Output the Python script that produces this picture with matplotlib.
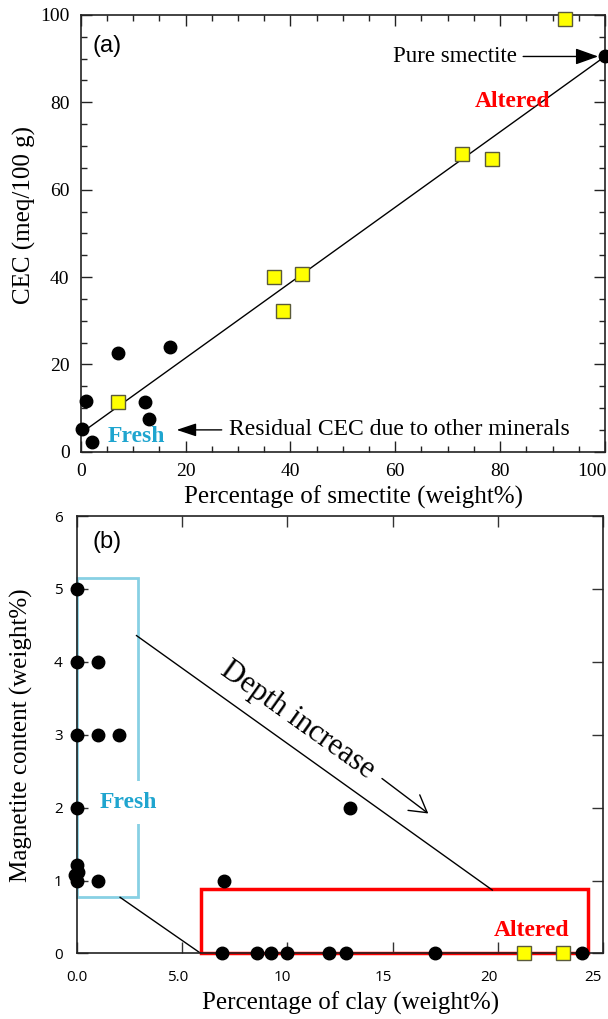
import matplotlib
matplotlib.use("Agg")
import matplotlib.pyplot as plt
import matplotlib.transforms as mtransforms
from matplotlib.patches import Rectangle
from matplotlib.ticker import MultipleLocator

# ---------------- Panel (a) data ----------------
smectite_sq = [7.2, 36.9, 38.6, 42.2, 72.8, 78.4, 92.4]
cec_sq = [11.3, 40.1, 32.2, 40.7, 68.1, 67.1, 99.1]
smectite_ci = [0.2, 1.1, 2.1, 7.2, 12.2, 13.1, 17.1, 100.0]
cec_ci = [5.1, 11.5, 2.2, 22.7, 11.3, 7.5, 24.0, 90.5]
fit_x = [0, 100]
fit_y = [4.2, 90.5]
a_xticks = [0, 20, 40, 60, 80, 100]
a_yticks = [0, 20, 40, 60, 80, 100]

# ---------------- Panel (b) data ----------------
clay_ci = [0, 0, 0, 0, 0, -0.1, 0.05, 0, 1.0, 1.0, 2.0, 1.0, 13.0, 7.0,
           6.9, 8.55, 9.25, 10.0, 12.0, 12.8, 17.0, 24.0]
mag_ci = [5, 4, 3, 2, 1.22, 1.08, 1.12, 1.0, 4, 3, 3, 1.0, 2, 1.0,
          0, 0, 0, 0, 0, 0, 0, 0]
clay_sq = [21.25, 23.1]
mag_sq = [0, 0]
b_xticks = [0, 5, 10, 15, 20, 25]
b_xlabels = ["0.0", "5.0", "10", "15", "20", "25"]
b_yticks = [0, 1, 2, 3, 4, 5, 6]

SERIF = "Liberation Serif"
SANS = "Liberation Sans"
plt.rcParams["font.family"] = [SERIF, "DejaVu Serif"]
FRESH_TXT = "#1fa5cf"
FRESH_BOX = "#88d0e4"
YELLOW = "#ffff00"
SQ_EDGE = "#5a5a3a"

fig = plt.figure(figsize=(6.08, 10.19), dpi=100)

def shift_labels(labels, shifts_px):
    for lab, dx in zip(labels, shifts_px):
        lab.set_transform(lab.get_transform() +
                          mtransforms.ScaledTranslation(dx / 100, 0, fig.dpi_scale_trans))

# ================= Panel (a) =================
ax1 = fig.add_axes([0.1327, 0.5567, 0.8623, 0.4286])
ax1.set_xlim(0, 100)
ax1.set_ylim(0, 100)
ax1.set_xticks(a_xticks)
ax1.set_yticks(a_yticks)
ax1.xaxis.set_minor_locator(MultipleLocator(5))
ax1.yaxis.set_minor_locator(MultipleLocator(5))
ax1.tick_params(which="both", direction="in", top=True, right=True, width=1, color="#222222")
ax1.tick_params(which="major", length=8, labelsize=14, pad=8)
ax1.tick_params(which="minor", length=4)
for s in ax1.spines.values():
    s.set_linewidth(1.2)
    s.set_color("#222222")
shift_labels(ax1.get_xticklabels(), [0, 0, 0, 0, 0, -13])

ax1.plot(fit_x, fit_y, color="black", lw=1, zorder=2)
ax1.plot(smectite_ci, cec_ci, "o", color="black", ms=9, clip_on=False, zorder=4)
ax1.plot(smectite_sq, cec_sq, "s", mfc=YELLOW, mec=SQ_EDGE, mew=1, ms=10.5,
         clip_on=False, zorder=4)

ax1.text(2.3, 92.9, "(a)", family=SANS, fontsize=17, ha="left", va="center")
ax1.text(83.2, 90.6, "Pure smectite", fontsize=16.5, ha="right", va="center")
ax1.annotate("", xy=(98.7, 90.5), xytext=(84.4, 90.5),
             arrowprops=dict(arrowstyle="-|>,head_length=0.7,head_width=0.25",
                             color="black", lw=1, mutation_scale=20,
                             shrinkA=0, shrinkB=0))
ax1.text(82.4, 80.1, "Altered", color="red", fontweight="bold", fontsize=17,
         ha="center", va="center")
ax1.text(10.7, 3.5, "Fresh", color=FRESH_TXT, fontweight="bold", fontsize=17,
         ha="center", va="center")
ax1.annotate("", xy=(18.3, 5.0), xytext=(26.9, 5.0),
             arrowprops=dict(arrowstyle="-|>,head_length=0.6,head_width=0.2",
                             color="black", lw=1, mutation_scale=20,
                             shrinkA=0, shrinkB=0))
ax1.text(28.2, 5.2, "Residual CEC due to other minerals", fontsize=17,
         ha="left", va="center")

ax1.set_xlabel("Percentage of smectite (weight%)", fontsize=18)
ax1.set_ylabel("CEC (meq/100 g)", fontsize=18)
ax1.xaxis.set_label_coords(0.52, -0.078)
ax1.yaxis.set_label_coords(-0.085, 0.542)

# ================= Panel (b) =================
ax2 = fig.add_axes([0.1262, 0.0643, 0.8656, 0.4293])
ax2.set_xlim(0, 25)
ax2.set_ylim(0, 6)
ax2.set_xticks(b_xticks)
ax2.set_xticklabels(b_xlabels)
ax2.set_yticks(b_yticks)
ax2.tick_params(which="major", direction="in", top=True, right=True, length=8,
                width=1, color="#333333", labelsize=11)
ax2.tick_params(axis="x", pad=12)
ax2.tick_params(axis="y", pad=10)
for lab in ax2.get_xticklabels() + ax2.get_yticklabels():
    lab.set_fontfamily("Open Sans")
# the source figure's x tick labels sit slightly left of their ticks
shift_labels(ax2.get_xticklabels(), [0, -4.5, -5, -9, -8.5, -10])
for s in ax2.spines.values():
    s.set_linewidth(1.2)
    s.set_color("#222222")

ax2.add_patch(Rectangle((0, 0.77), 2.9, 4.38, fill=False, ec=FRESH_BOX, lw=2,
                        clip_on=False, zorder=2))
ax2.add_patch(Rectangle((5.9, 0), 18.4, 0.88, fill=False, ec="red", lw=2.5,
                        clip_on=False, zorder=2))
ax2.plot([2.84, 19.74], [4.36, 0.87], color="black", lw=1, zorder=2)
ax2.plot([2.06, 5.9], [0.77, 0.0], color="black", lw=1, zorder=2)

ax2.plot(clay_ci, mag_ci, "o", color="black", ms=9, clip_on=False, zorder=4)
ax2.plot(clay_sq, mag_sq, "s", mfc=YELLOW, mec=SQ_EDGE, mew=1, ms=10,
         clip_on=False, zorder=4)

ax2.text(0.77, 5.64, "(b)", family=SANS, fontsize=17, ha="left", va="center")
ax2.text(2.46, 2.07, "Fresh", color=FRESH_TXT, fontweight="bold", fontsize=17,
         ha="center", va="center", zorder=3,
         bbox=dict(boxstyle="square,pad=0.45", fc="white", ec="none"))
ax2.text(21.6, 0.32, "Altered", color="red", fontweight="bold", fontsize=17,
         ha="center", va="center", zorder=3)
ax2.text(10.49, 3.20, "Depth increase", fontsize=22, rotation=-35.5,
         rotation_mode="anchor", ha="center", va="center")
ax2.annotate("", xy=(16.7, 1.92), xytext=(14.5, 2.40),
             arrowprops=dict(arrowstyle="->,head_length=0.6,head_width=0.35",
                             color="black", lw=1, mutation_scale=20,
                             shrinkA=0, shrinkB=0))

ax2.set_xlabel("Percentage of clay (weight%)", fontsize=18)
ax2.set_ylabel("Magnetite content (weight%)", fontsize=18)
ax2.xaxis.set_label_coords(0.52, -0.088)
ax2.yaxis.set_label_coords(-0.083, 0.5)

fig.savefig("out.png", dpi=100)
